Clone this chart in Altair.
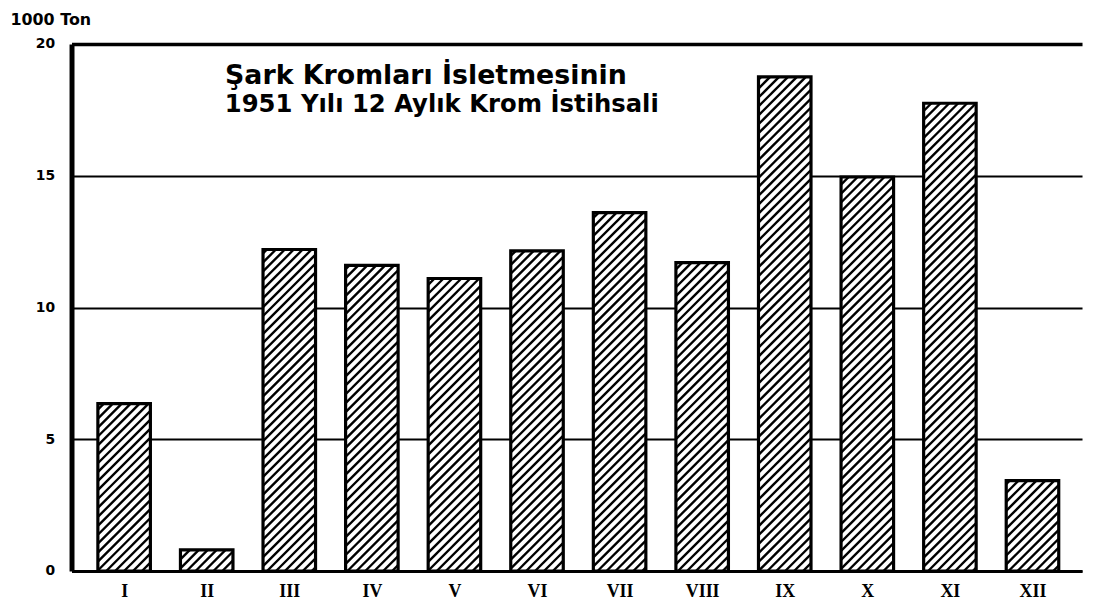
import math
import json
import altair as alt
import pandas as pd

# ---- data ----
months = ["I", "II", "III", "IV", "V", "VI", "VII", "VIII", "IX", "X", "XI", "XII"]
production = [6.35, 0.8, 12.2, 11.6, 11.1, 12.15, 13.6, 11.7, 18.75, 14.95, 17.75, 3.43]
y_ticks = [0, 5, 10, 15, 20]
title_lines = ["Şark Kromları İsletmesinin", "1951 Yılı 12 Aylık Krom İstihsali"]
y_unit = "1000 Ton"

# ---- layout ----
W, H = 1018, 531
X_DOMAIN = [-0.637, 11.6]
Y_DOMAIN = [0, 20]
HALF = 0.318          # half bar width in band units
SP = 9.0              # hatch spacing (px)
px_x = W / (X_DOMAIN[1] - X_DOMAIN[0])
px_y = H / (Y_DOMAIN[1] - Y_DOMAIN[0])

bars = pd.DataFrame({"idx": list(range(len(months))), "month": months, "value": production})
bars["x0"] = bars["idx"] - HALF
bars["x1"] = bars["idx"] + HALF
bars["base"] = 0.0

# hatch segments (45°, "///") clipped to each bar, computed from the values
segs = []
for i, v in enumerate(production):
    uL, uR, vT = (i - HALF) * px_x, (i + HALF) * px_x, v * px_y
    k0 = math.floor((uL - vT) / SP) - 1
    k1 = math.ceil(uR / SP) + 1
    for k in range(k0, k1 + 1):
        c = k * SP
        u1 = max(uL, c)
        u2 = min(uR, c + vT)
        if u2 - u1 > 0.8:
            segs.append({"hx": u1 / px_x, "hy": (u1 - c) / px_y,
                         "hx2": u2 / px_x, "hy2": (u2 - c) / px_y})
hatch = pd.DataFrame(segs)

label_expr = json.dumps(months) + "[datum.value]"

x_scale = alt.Scale(domain=X_DOMAIN, nice=False, zero=False)
y_scale = alt.Scale(domain=Y_DOMAIN, nice=False, zero=True)

x_axis = alt.Axis(values=list(range(len(months))), labelExpr=label_expr, title=None,
                  grid=False, ticks=False, tickSize=0, domainColor="black", domainWidth=3,
                  labelFont="Liberation Serif", labelFontWeight="bold", labelFontSize=18,
                  labelColor="black", labelPadding=12)
y_axis = alt.Axis(values=y_ticks, title=y_unit, titleAngle=0, titleX=-62, titleY=-25,
                  titleAlign="left", titleBaseline="middle", titleFont="DejaVu Sans",
                  titleFontSize=16, titleFontWeight="bold", titleColor="black",
                  grid=True, gridColor="black",
                  gridWidth={"condition": {"test": "datum.value === 20", "value": 3.5}, "value": 2},
                  ticks=False, tickSize=0, domainColor="black", domainWidth=5,
                  labelFont="DejaVu Sans", labelFontWeight="bold", labelFontSize=14,
                  labelColor="black", labelPadding=17)

base_bars = alt.Chart(bars).mark_rect(fill="white", strokeWidth=0).encode(
    x=alt.X("x0:Q", scale=x_scale, axis=x_axis),
    x2="x1:Q",
    y=alt.Y("value:Q", scale=y_scale, axis=y_axis),
    y2="base:Q",
)

hatch_layer = alt.Chart(hatch).mark_rule(color="black", strokeWidth=2.4).encode(
    x=alt.X("hx:Q", scale=x_scale, axis=x_axis),
    x2="hx2:Q",
    y=alt.Y("hy:Q", scale=y_scale, axis=y_axis),
    y2="hy2:Q",
)

outline = alt.Chart(bars).mark_rect(fillOpacity=0, stroke="black", strokeWidth=3.2).encode(
    x=alt.X("x0:Q", scale=x_scale, axis=x_axis),
    x2="x1:Q",
    y=alt.Y("value:Q", scale=y_scale, axis=y_axis),
    y2="base:Q",
)

t1 = alt.Chart(pd.DataFrame({"t": [title_lines[0]]})).mark_text(
    font="DejaVu Sans", fontSize=27, fontWeight="bold", color="black", align="center", baseline="middle"
).encode(text="t:N", x=alt.value(357), y=alt.value(32))
t2 = alt.Chart(pd.DataFrame({"t": [title_lines[1]]})).mark_text(
    font="DejaVu Sans", fontSize=24.5, fontWeight="bold", color="black", align="center", baseline="middle"
).encode(text="t:N", x=alt.value(373), y=alt.value(62))

chart = alt.layer(base_bars, hatch_layer, outline, t1, t2).properties(
    width=W, height=H,
    autosize=alt.AutoSizeParams(type="none"),
    padding={"left": 64, "top": 34, "right": 3, "bottom": 30},
    background="white",
).configure_view(strokeWidth=0)

chart.save("out.html", embed_options={"renderer": "svg", "actions": False})
